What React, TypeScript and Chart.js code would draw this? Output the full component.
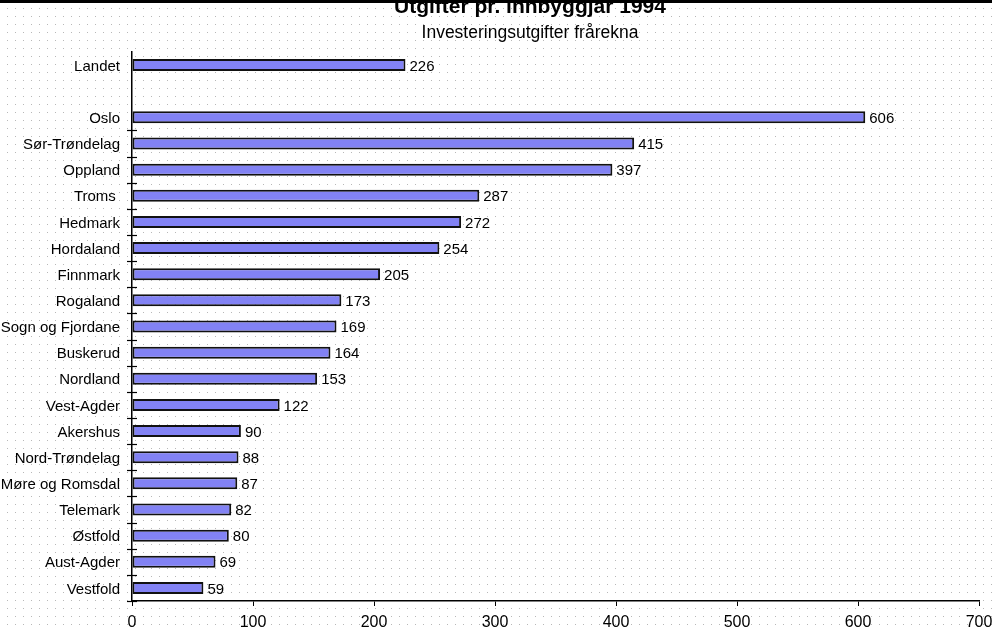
import React, { useEffect, useRef } from "react";
import { Chart, registerables } from "chart.js";

Chart.register(...registerables);

const titleText = "Utgifter pr. innbyggjar 1994";
const subtitleText = "Investeringsutgifter frårekna";

const categories = [
  "Landet",
  "",
  "Oslo",
  "Sør-Trøndelag",
  "Oppland",
  "Troms ",
  "Hedmark",
  "Hordaland",
  "Finnmark",
  "Rogaland",
  "Sogn og Fjordane",
  "Buskerud",
  "Nordland",
  "Vest-Agder",
  "Akershus",
  "Nord-Trøndelag",
  "Møre og Romsdal",
  "Telemark",
  "Østfold",
  "Aust-Agder",
  "Vestfold",
];

const values: (number | null)[] = [
  226, null, 606, 415, 397, 287, 272, 254, 205, 173, 169, 164, 153, 122, 90, 88, 87, 82, 80, 69, 59,
];

const xMin = 0;
const xMax = 700;
const xStep = 100;

const FONT = "'Liberation Sans', Arial, Helvetica, sans-serif";

const backgroundPlugin = {
  id: "bgDots",
  beforeDraw(chart: any) {
    const { ctx, width, height } = chart;
    ctx.save();
    ctx.fillStyle = "#ffffff";
    ctx.fillRect(0, 0, width, height);
    ctx.fillStyle = "#b8b8b8";
    for (let y = 0; y < height; y += 8) {
      for (let x = 7; x < width; x += 8) {
        ctx.fillRect(x, y, 1, 1);
      }
    }
    ctx.restore();
  },
  afterDraw(chart: any) {
    const { ctx, width } = chart;
    ctx.save();
    ctx.fillStyle = "#000";
    ctx.fillRect(0, 0, width, 3);
    ctx.restore();
  },
};

const titlePlugin = {
  id: "titles",
  afterDraw(chart: any) {
    const { ctx } = chart;
    ctx.save();
    ctx.fillStyle = "#000";
    ctx.textAlign = "center";
    ctx.textBaseline = "alphabetic";
    ctx.font = `bold 21px ${FONT}`;
    ctx.fillText(titleText, 530, 13);
    ctx.font = `17.5px ${FONT}`;
    ctx.fillText(subtitleText, 530, 38);
    ctx.restore();
  },
};

const valueLabelPlugin = {
  id: "valueLabels",
  afterDatasetsDraw(chart: any) {
    const { ctx } = chart;
    const meta = chart.getDatasetMeta(0);
    ctx.save();
    ctx.fillStyle = "#000";
    ctx.font = `15px ${FONT}`;
    ctx.textAlign = "left";
    ctx.textBaseline = "middle";
    meta.data.forEach((bar: any, i: number) => {
      const v = values[i];
      if (v == null) return;
      ctx.fillText(String(v), bar.x + 4, bar.y + 1.5);
    });
    ctx.restore();
  },
};

const yTickPlugin = {
  id: "yCrossTicks",
  afterDraw(chart: any) {
    const { ctx } = chart;
    const y = chart.scales.y;
    const x0 = y.right;
    ctx.save();
    ctx.strokeStyle = "#000";
    ctx.lineWidth = 1.2;
    for (let i = 2; i < categories.length; i++) {
      let py: number;
      if (i < categories.length - 1) {
        py = (y.getPixelForValue(i) + y.getPixelForValue(i + 1)) / 2;
      } else {
        py = chart.chartArea.bottom;
      }
      py = Math.round(py) + 0.5;
      ctx.beginPath();
      ctx.moveTo(x0 - 5, py);
      ctx.lineTo(x0 + 5, py);
      ctx.stroke();
    }
    ctx.restore();
  },
};

export default function App() {
  const canvasRef = useRef<HTMLCanvasElement | null>(null);

  useEffect(() => {
    document.body.style.margin = "0";
    const canvas = canvasRef.current;
    if (!canvas) return;
    const chart = new Chart(canvas, {
      type: "bar",
      data: {
        labels: categories,
        datasets: [
          {
            data: values as any,
            backgroundColor: "#8282f4",
            borderColor: "#111111",
            borderWidth: 2,
            borderSkipped: false,
            barPercentage: 0.46,
            categoryPercentage: 1,
          },
        ],
      },
      options: {
        indexAxis: "y",
        animation: false,
        responsive: false,
        devicePixelRatio: 1,
        layout: { padding: { top: 52, right: 13, left: 0, bottom: 0 } },
        plugins: {
          legend: { display: false },
          title: { display: false },
          tooltip: { enabled: false },
        },
        scales: {
          x: {
            type: "linear",
            min: xMin,
            max: xMax,
            ticks: {
              stepSize: xStep,
              color: "#000",
              font: { family: FONT, size: 16 },
              padding: 7,
              maxRotation: 0,
            },
            grid: {
              drawOnChartArea: false,
              drawTicks: true,
              tickLength: 5,
              color: "#000",
            },
            border: { color: "#000", width: 1.5 },
            afterFit(scale: any) {
              scale.height = 30;
              scale.paddingRight = 0;
              scale.paddingLeft = 0;
            },
          },
          y: {
            type: "category",
            ticks: {
              color: "#000",
              font: { family: FONT, size: 15 },
              padding: 12,
              autoSkip: false,
              labelOffset: 1.5,
            },
            grid: { drawOnChartArea: false, drawTicks: false },
            border: { color: "#000", width: 1.5 },
            afterFit(scale: any) {
              scale.width = 132;
              scale.paddingTop = 0;
              scale.paddingBottom = 0;
            },
          },
        },
      },
      plugins: [backgroundPlugin, yTickPlugin, valueLabelPlugin, titlePlugin],
    });
    return () => chart.destroy();
  }, []);

  return (
    <div style={{ width: 992, height: 631 }}>
      <canvas ref={canvasRef} width={992} height={631} style={{ display: "block" }} />
    </div>
  );
}
